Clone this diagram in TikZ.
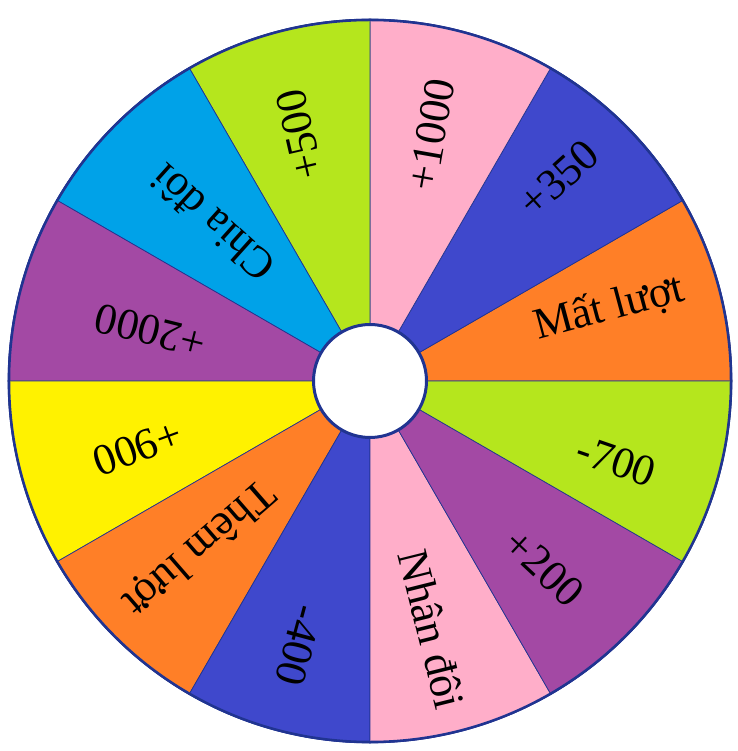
\documentclass[tikz,border=0pt]{standalone}
\usepackage{fontspec}
\setmainfont{Liberation Serif}
\usepackage{tikz}
\definecolor{wpink}{RGB}{255,174,201}
\definecolor{wblue}{RGB}{63,72,204}
\definecolor{worange}{RGB}{255,127,39}
\definecolor{wlime}{RGB}{181,230,29}
\definecolor{wpurple}{RGB}{163,73,164}
\definecolor{wyellow}{RGB}{255,242,0}
\definecolor{wcyan}{RGB}{0,162,232}
\definecolor{rim}{RGB}{32,52,145}
\tikzset{
  slice/.style={draw=rim, line width=0.7pt},
  lbl/.style={font=\fontsize{44}{44}\selectfont, inner sep=0pt},
  rimline/.style={draw=rim, line width=2.5pt},
  hub/.style={circle, fill=white, draw=rim, line width=3pt, minimum size=113pt, inner sep=0pt},
}

\begin{document}
\begin{tikzpicture}[x=1pt, y=1pt]
\useasboundingbox (-370,-370) rectangle (367,381);
% twelve slices, label angle / radius / rotation per slice
\foreach \a/\col/\txt/\t/\r/\rot [count=\i] in {
  0/worange/Mất lượt/17/250/15,
  30/wblue/+350/47/277/42,
  60/wpink/+1000/76/254/80,
  90/wlime/+500/106/256/103,
  120/wcyan/Chia đôi/135/223/138,
  150/wpurple/+2000/167/225/166,
  180/wyellow/+900/196/242/200,
  210/worange/Thêm lượt/224/239/221,
  240/wblue/-400/255/274/255,
  270/wpink/Nhân đôi/284/256/284,
  300/wpurple/+200/313/255/317,
  330/wlime/-700/342/259/341} {
  \filldraw[slice, fill=\col] (0,0) -- (\a:362) arc[start angle=\a, delta angle=30, radius=362] -- cycle;
  \node[lbl, rotate=\rot] (lbl\i) at (\t:\r) {\txt};
}
\draw[rimline] (0,0) circle[radius=361];
\node[hub] (hub) at (0,0) {};
\end{tikzpicture}
\end{document}
